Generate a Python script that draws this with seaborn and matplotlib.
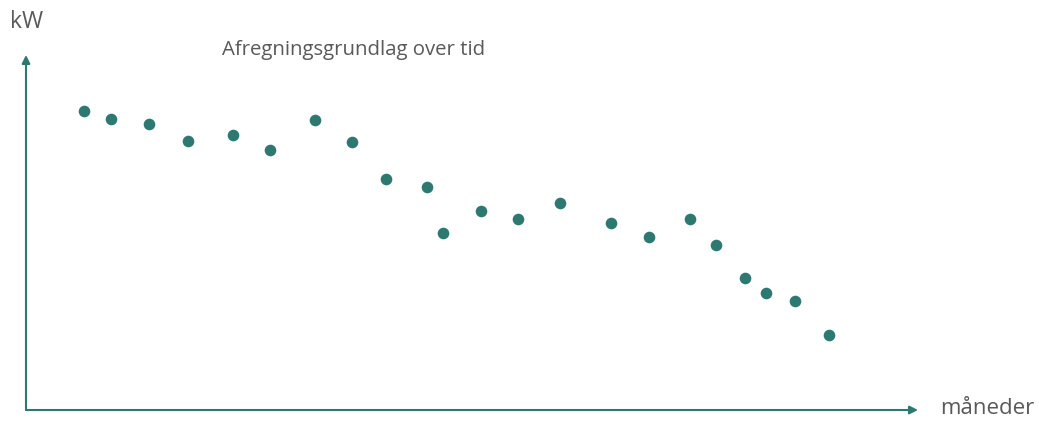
import matplotlib
matplotlib.use("Agg")
import matplotlib.pyplot as plt
import pandas as pd
import seaborn as sns

# months on the x axis, billing basis (kW, arbitrary scale) on the y axis
months = [1.56, 2.29, 3.31, 4.36, 5.57, 6.56, 7.78, 8.77, 9.69, 10.79, 11.22,
          12.24, 13.24, 14.37, 15.74, 16.76, 17.86, 18.56, 19.34, 19.91, 20.69, 21.60]
kw = [84.2, 82.0, 80.6, 75.8, 77.5, 73.2, 81.7, 75.5, 65.1, 62.8, 49.9,
      56.1, 53.8, 58.3, 52.7, 48.7, 53.8, 46.5, 37.2, 33.0, 30.7, 21.1]

title = "Afregningsgrundlag over tid"
x_label = "måneder"
y_label = "kW"

TEAL = "#2E7872"
GREY = "#595959"

sns.set_theme(style="white")
plt.rcParams["font.family"] = ["Open Sans", "DejaVu Sans"]

df = pd.DataFrame({"month": months, "kw": kw})

W, H = 1039, 421
fig = plt.figure(figsize=(W / 100, H / 100), dpi=100)
ax = fig.add_axes([26 / W, 11 / H, 892 / W, 355 / H])

sns.scatterplot(data=df, x="month", y="kw", color=TEAL, s=70, linewidth=0, ax=ax)
ax.set_xlim(0, 24)
ax.set_ylim(0, 100)
ax.set_xticks([])
ax.set_yticks([])
ax.set_xlabel("")
ax.set_ylabel("")
for sp in ax.spines.values():
    sp.set_visible(False)

arrow = dict(arrowstyle="-|>", color=TEAL, lw=1.5, mutation_scale=12,
             shrinkA=0, shrinkB=0)
ax.annotate("", xy=(1, 0), xytext=(0, 0), xycoords="axes fraction", arrowprops=arrow)
ax.annotate("", xy=(0, 1), xytext=(0, 0), xycoords="axes fraction", arrowprops=arrow)

fig.text(10 / W, 1 - 22 / H, y_label, fontsize=16.5, color=GREY, va="center", ha="left")
fig.text(940 / W, 1 - 409 / H, x_label, fontsize=16, color=GREY, va="center", ha="left")
fig.text(222 / W, 1 - 50 / H, title, fontsize=14.7, color=GREY, va="center", ha="left")

fig.savefig("out.png", dpi=100)
